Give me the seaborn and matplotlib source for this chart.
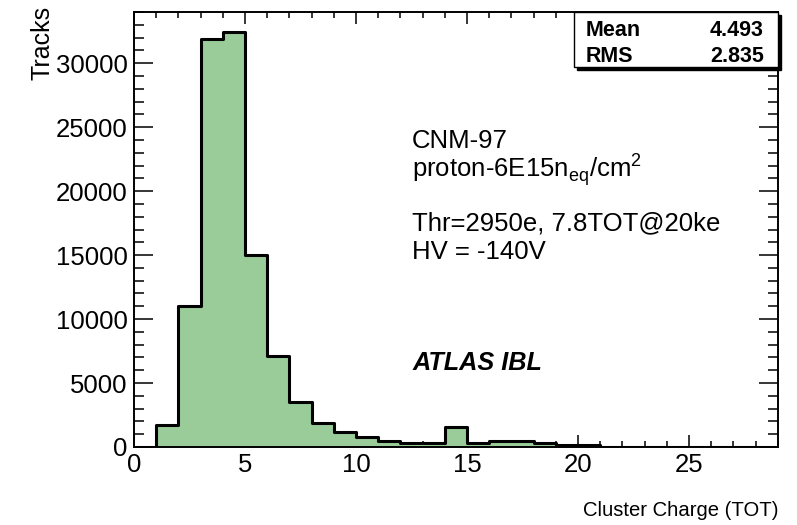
import seaborn as sns
import matplotlib.pyplot as plt
from matplotlib.patches import Rectangle
from matplotlib.ticker import MultipleLocator

# TOT histogram: unit bins from 0 to 29, tracks per bin
tot_edges = list(range(0, 30))
tot_bins = list(range(0, 29))
tracks = [0, 1700, 11000, 31900, 32400, 15000, 7100, 3500, 1900, 1200,
          800, 500, 330, 330, 1550, 300, 500, 430, 330, 170,
          150, 0, 0, 0, 0, 0, 0, 0, 0]

stat_names = ["Mean", "RMS"]
stat_values = ["4.493", "2.835"]

info_lines = ["CNM-97",
              r"proton-6E15n$_{\mathregular{eq}}$/cm$^{\mathregular{2}}$",
              "Thr=2950e, 7.8TOT@20ke",
              "HV = -140V"]

sns.set_style("ticks")
plt.rcParams["font.family"] = ["Liberation Sans", "DejaVu Sans"]
plt.rcParams["mathtext.fontset"] = "custom"
plt.rcParams["mathtext.rm"] = "Liberation Sans"
plt.rcParams["text.color"] = "black"
plt.rcParams["xtick.labelcolor"] = "black"
plt.rcParams["ytick.labelcolor"] = "black"

fig = plt.figure(figsize=(7.97, 5.25), dpi=100)
ax = fig.add_axes([0.168, 0.1486, 0.808, 0.8285])

# filled body, then the black step outline on top (ROOT style)
sns.histplot(x=tot_bins, weights=tracks, bins=tot_edges, element="step",
             fill=True, color="#99cc99", alpha=1, linewidth=0, ax=ax)
sns.histplot(x=tot_bins, weights=tracks, bins=tot_edges, element="step",
             fill=False, color="black", linewidth=2.2, ax=ax)

ax.set_xlim(0, 29)
ax.set_ylim(0, 34000)
ax.set_xlabel("")
ax.set_ylabel("")
ax.xaxis.set_major_locator(MultipleLocator(5))
ax.xaxis.set_minor_locator(MultipleLocator(1))
ax.yaxis.set_major_locator(MultipleLocator(5000))
ax.yaxis.set_minor_locator(MultipleLocator(1000))
ax.tick_params(which="both", direction="in", top=True, right=True,
               width=1.1, color="black", labelcolor="black",
               labelsize=18.5, pad=4.5)
ax.tick_params(axis="x", which="major", length=8.6)
ax.tick_params(axis="x", which="minor", length=4.3)
ax.tick_params(axis="y", which="major", length=14)
ax.tick_params(axis="y", which="minor", length=7)
for sp in ax.spines.values():
    sp.set_linewidth(1.4)
    sp.set_color("black")

# axis titles, ROOT places them at the ends
fig.text(0.9762, 1 - 516 / 525, "Cluster Charge (TOT)", ha="right",
         va="baseline", fontsize=14.6)
fig.text(43 / 797, 1 - 6 / 525, "Tracks", rotation=90, ha="center",
         va="top", fontsize=18)

# text block
ys = [0.687, 0.621, 0.499, 0.432]
for y, line in zip(ys, info_lines):
    ax.text(0.432, y, line, transform=ax.transAxes, fontsize=18.5,
            va="baseline", ha="left")
ax.text(0.432, 0.177, "ATLAS IBL", transform=ax.transAxes, fontsize=18.2,
        fontweight="bold", fontstyle="italic", va="baseline", ha="left")

# stats box with shadow
bx0, bx1 = 574 / 797, 778 / 797
by0, by1 = 1 - 67 / 525, 1 - 12 / 525
dx, dy = 3 / 797, 3 / 525
fig.add_artist(Rectangle((bx0 + dx, by0 - dy), bx1 - bx0, by1 - by0,
                         transform=fig.transFigure, facecolor="black",
                         edgecolor="black", zorder=10))
fig.add_artist(Rectangle((bx0, by0), bx1 - bx0, by1 - by0,
                         transform=fig.transFigure, facecolor="white",
                         edgecolor="black", linewidth=1, zorder=11))
for yb, name, val in zip([1 - 36 / 525, 1 - 62 / 525], stat_names, stat_values):
    fig.text(586 / 797, yb, name, fontsize=15.5, fontweight="bold",
             va="baseline", ha="left", zorder=12)
    fig.text(764 / 797, yb, val, fontsize=15.5, fontweight="bold",
             va="baseline", ha="right", zorder=12)

plt.savefig("out.png", dpi=100)
plt.close()
